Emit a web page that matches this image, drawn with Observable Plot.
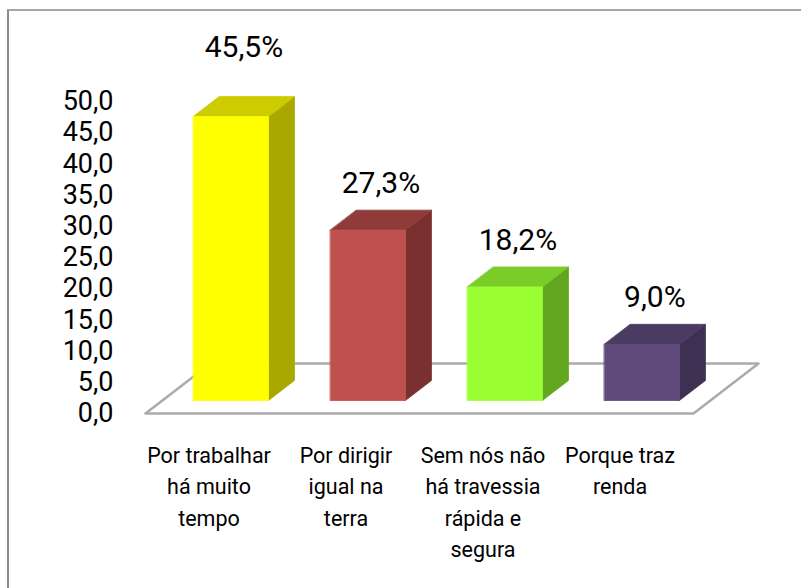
<!DOCTYPE html>
<html>
<head>
<meta charset="utf-8">
<script src="https://cdn.jsdelivr.net/npm/d3@7"></script>
<script src="https://cdn.jsdelivr.net/npm/@observablehq/plot@0.6"></script>
<style>
  html, body { margin: 0; padding: 0; background: #fff; overflow: hidden; }
  #wrap { position: relative; width: 801px; height: 588px; }
  #border { position: absolute; left: 7px; top: 9px; right: -20px; bottom: -20px;
            border-left: 2px solid #8c8c8c; border-top: 2px solid #a6a6a6; pointer-events: none; }
</style>
</head>
<body>
<div id="wrap"><div id="border"></div></div>
<script>
// ---- data ----
const categories = [
  "Por trabalhar\nhá muito\ntempo",
  "Por dirigir\nigual na\nterra",
  "Sem nós não\nhá travessia\nrápida e\nsegura",
  "Porque traz\nrenda"
];
const values = [45.5, 27.3, 18.2, 9.0];
const valueLabels = ["45,5%", "27,3%", "18,2%", "9,0%"];
const yTicks = [0, 5, 10, 15, 20, 25, 30, 35, 40, 45, 50];

// ---- styles ----
const frontColors = ["#FFFF00", "#C0504D", "#99FF33", "#604A7B"];
const topColors   = ["#CCCC00", "#8E3B39", "#7ACC29", "#4B3A62"];
const sideColors  = ["#A8A800", "#7A302E", "#63A620", "#3E3052"];

// ---- 3D projection helpers (oblique) ----
const W = 801, H = 588;
const mL = 145, mR = 108, mT = 101, mB = 175;
const pxPerU = (W - mL - mR) / 4;           // x units: category index
const pxPerV = (H - mT - mB) / 50;          // y units: percent
const DX = 65 / pxPerU, DY = 50 / pxPerV;   // full floor depth
const proj = (u, v, w) => ({x: u + w * DX, y: v + w * DY});
const HW = 0.274, WF = 0.26, WB = 0.66;     // bar half width, front/back depth

const marks = [];
// floor
const floor = [proj(0,0,0), proj(4,0,0), proj(4,0,1), proj(0,0,1)];
marks.push(Plot.line(floor, {x: "x", y: "y", curve: "linear-closed", fill: "white",
  stroke: "#ababab", strokeWidth: 2.5}));

values.forEach((v, i) => {
  const u0 = i + 0.5 - HW, u1 = i + 0.5 + HW;
  const side = [proj(u1,0,WF), proj(u1,0,WB), proj(u1,v,WB), proj(u1,v,WF)];
  const top  = [proj(u0,v,WF), proj(u1,v,WF), proj(u1,v,WB), proj(u0,v,WB)];
  const front= [proj(u0,0,WF), proj(u1,0,WF), proj(u1,v,WF), proj(u0,v,WF)];
  marks.push(Plot.line(side,  {x: "x", y: "y", curve: "linear-closed", fill: sideColors[i],  stroke: sideColors[i],  strokeWidth: 0.8}));
  marks.push(Plot.line(top,   {x: "x", y: "y", curve: "linear-closed", fill: topColors[i],   stroke: topColors[i],   strokeWidth: 0.8}));
  marks.push(Plot.line(front, {x: "x", y: "y", curve: "linear-closed", fill: frontColors[i], stroke: frontColors[i], strokeWidth: 0.8}));
});

// value labels above bars (the tallest one sits higher, clear of the plot top)
const vmax = Math.max(...values);
marks.push(Plot.text(values, {
  x: (d, i) => proj(i + 0.5, d, (WF + WB) / 2).x,
  y: (d, i) => proj(i + 0.5, d, (WF + WB) / 2).y + (d === vmax ? 22 / pxPerV : 0),
  text: (d, i) => valueLabels[i],
  dy: -37,
  fontSize: 30, fill: "#000"
}));
// category labels
marks.push(Plot.text(categories, {
  x: (d, i) => i + 0.5, y: () => 0, text: d => d,
  dx: -5, dy: 27, lineAnchor: "top", lineHeight: 31.5 / 21.5,
  fontSize: 21.5, fill: "#000"
}));

const chart = Plot.plot({
  width: W, height: H,
  marginLeft: mL, marginRight: mR, marginTop: mT, marginBottom: mB,
  style: {fontFamily: "Roboto, 'Liberation Sans', sans-serif", fontSize: "27px", color: "#000", background: "transparent", overflow: "visible"},
  x: {domain: [0, 4], axis: null},
  y: {domain: [0, 50], ticks: yTicks, tickSize: 0, tickPadding: 32, label: null,
      tickFormat: d => d.toFixed(1).replace(".", ",")},
  marks
});
document.getElementById("wrap").prepend(chart);
</script>
</body>
</html>
